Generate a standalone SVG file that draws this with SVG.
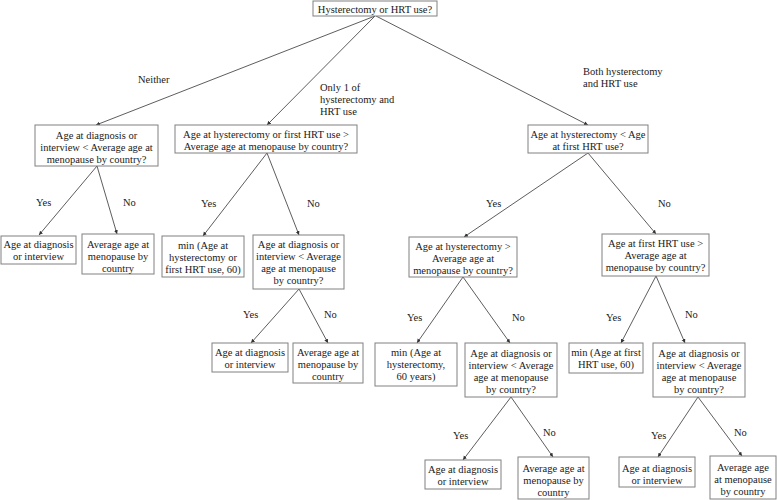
<svg xmlns="http://www.w3.org/2000/svg" width="777" height="500" viewBox="0 0 777 500">
<style>
  .box { fill: #ffffff; stroke: #808080; stroke-width: 1; }
  .t { font-family: "Liberation Serif", "Times New Roman", serif; font-size: 10.5px; fill: #1a1a1a; }
  .c { text-anchor: middle; }
  .edge { stroke: #333333; stroke-width: 0.8; fill: none; marker-end: url(#arr); }
</style>
<defs>
  <marker id="arr" markerUnits="userSpaceOnUse" markerWidth="5" markerHeight="5" refX="4" refY="2" orient="auto">
    <path d="M0,0 L4,2 L0,4 Z" fill="#333333"/>
  </marker>
</defs>
<rect width="777" height="500" fill="#ffffff"/>

<g id="connectors">
  <line class="edge" x1="375" y1="16" x2="96" y2="125"/>
  <line class="edge" x1="375" y1="16" x2="267" y2="125"/>
  <line class="edge" x1="376" y1="16" x2="588" y2="125"/>
  <line class="edge" x1="97" y1="166" x2="39" y2="235"/>
  <line class="edge" x1="97" y1="166" x2="117" y2="234"/>
  <line class="edge" x1="267" y1="153" x2="203" y2="236"/>
  <line class="edge" x1="267" y1="153" x2="299" y2="235"/>
  <line class="edge" x1="299" y1="289" x2="251" y2="343"/>
  <line class="edge" x1="299" y1="289" x2="328" y2="343"/>
  <line class="edge" x1="588" y1="153" x2="464" y2="237"/>
  <line class="edge" x1="588" y1="153" x2="656" y2="234"/>
  <line class="edge" x1="463" y1="277" x2="417" y2="343"/>
  <line class="edge" x1="463" y1="277" x2="510" y2="343"/>
  <line class="edge" x1="656" y1="276" x2="621" y2="343"/>
  <line class="edge" x1="656" y1="276" x2="685" y2="343"/>
  <line class="edge" x1="511" y1="397" x2="463" y2="460"/>
  <line class="edge" x1="511" y1="397" x2="553" y2="457"/>
  <line class="edge" x1="698" y1="397" x2="658" y2="457"/>
  <line class="edge" x1="698" y1="397" x2="742" y2="456"/>
</g>

<g id="edge-labels" class="t">
  <text x="138" y="82.5">Neither</text>
  <text x="320" y="90.5">Only 1 of</text>
  <text x="320" y="102.5">hysterectomy and</text>
  <text x="320" y="114.5">HRT use</text>
  <text x="583" y="74.5">Both hysterectomy</text>
  <text x="583" y="86.5">and HRT use</text>
  <text x="36" y="205.5">Yes</text>
  <text x="123" y="205.5">No</text>
  <text x="201" y="206.5">Yes</text>
  <text x="307" y="206.5">No</text>
  <text x="243" y="317.5">Yes</text>
  <text x="324" y="317.5">No</text>
  <text x="486" y="206.5">Yes</text>
  <text x="658" y="206.5">No</text>
  <text x="407" y="320.5">Yes</text>
  <text x="512" y="320.5">No</text>
  <text x="606" y="320.5">Yes</text>
  <text x="685" y="317.5">No</text>
  <text x="453" y="438.5">Yes</text>
  <text x="543" y="435.5">No</text>
  <text x="651" y="438.5">Yes</text>
  <text x="734" y="435.5">No</text>
</g>

<g id="root">
  <rect class="box" x="313" y="1" width="124" height="15"/>
  <text class="t c" x="375" y="12.5">Hysterectomy or HRT use?</text>
</g>

<g id="nodeA">
  <rect class="box" x="35" y="125" width="123" height="41"/>
  <text class="t c" x="96.5" y="138.5">Age at diagnosis or</text>
  <text class="t c" x="96.5" y="150.5">interview &lt; Average age at</text>
  <text class="t c" x="96.5" y="162.5">menopause by country?</text>
</g>

<g id="nodeB">
  <rect class="box" x="175" y="125" width="182" height="28"/>
  <text class="t c" x="266" y="137.5">Age at hysterectomy or first HRT use &gt;</text>
  <text class="t c" x="266" y="149.5">Average age at menopause by country?</text>
</g>

<g id="nodeC">
  <rect class="box" x="528" y="125" width="120" height="28"/>
  <text class="t c" x="588" y="137.5">Age at hysterectomy &lt; Age</text>
  <text class="t c" x="588" y="149.5">at first HRT use?</text>
</g>

<g id="nodeA1">
  <rect class="box" x="1" y="236" width="75" height="28"/>
  <text class="t c" x="38.5" y="247.5">Age at diagnosis</text>
  <text class="t c" x="38.5" y="260">or interview</text>
</g>

<g id="nodeA2">
  <rect class="box" x="82" y="234" width="72" height="40"/>
  <text class="t c" x="118" y="247.5">Average age at</text>
  <text class="t c" x="118" y="259.5">menopause by</text>
  <text class="t c" x="118" y="271.5">country</text>
</g>

<g id="nodeB1">
  <rect class="box" x="162" y="236" width="82" height="41"/>
  <text class="t c" x="203" y="248.5">min (Age at</text>
  <text class="t c" x="203" y="260.5">hysterectomy or</text>
  <text class="t c" x="203" y="272.5">first HRT use, 60)</text>
</g>

<g id="nodeB2">
  <rect class="box" x="253" y="235" width="91" height="54"/>
  <text class="t c" x="298.5" y="247.5">Age at diagnosis or</text>
  <text class="t c" x="298.5" y="259.8">interview &lt; Average</text>
  <text class="t c" x="298.5" y="272.1">age at menopause</text>
  <text class="t c" x="298.5" y="284.4">by country?</text>
</g>

<g id="nodeC1">
  <rect class="box" x="409" y="237" width="108" height="40"/>
  <text class="t c" x="463" y="249.5">Age at hysterectomy &gt;</text>
  <text class="t c" x="463" y="261.5">Average age at</text>
  <text class="t c" x="463" y="273.5">menopause by country?</text>
</g>

<g id="nodeC2">
  <rect class="box" x="602" y="234" width="107" height="42"/>
  <text class="t c" x="655.5" y="246.5">Age at first HRT use &gt;</text>
  <text class="t c" x="655.5" y="258.5">Average age at</text>
  <text class="t c" x="655.5" y="271">menopause by country?</text>
</g>

<g id="nodeB2a">
  <rect class="box" x="212" y="343" width="76" height="29"/>
  <text class="t c" x="250" y="355.5">Age at diagnosis</text>
  <text class="t c" x="250" y="367.5">or interview</text>
</g>

<g id="nodeB2b">
  <rect class="box" x="293" y="343" width="70" height="40"/>
  <text class="t c" x="328" y="355.5">Average age at</text>
  <text class="t c" x="328" y="367.5">menopause by</text>
  <text class="t c" x="328" y="379.5">country</text>
</g>

<g id="nodeC1a">
  <rect class="box" x="375" y="343" width="82" height="43"/>
  <text class="t c" x="416" y="355.5">min (Age at</text>
  <text class="t c" x="416" y="367.5">hysterectomy,</text>
  <text class="t c" x="416" y="380">60 years)</text>
</g>

<g id="nodeC1b">
  <rect class="box" x="465" y="343" width="92" height="54"/>
  <text class="t c" x="511" y="356.5">Age at diagnosis or</text>
  <text class="t c" x="511" y="368.5">interview &lt; Average</text>
  <text class="t c" x="511" y="380.5">age at menopause</text>
  <text class="t c" x="511" y="392.5">by country?</text>
</g>

<g id="nodeC2a">
  <rect class="box" x="569" y="343" width="74" height="30"/>
  <text class="t c" x="606" y="356">min (Age at first</text>
  <text class="t c" x="606" y="368">HRT use, 60)</text>
</g>

<g id="nodeC2b">
  <rect class="box" x="653" y="343" width="92" height="54"/>
  <text class="t c" x="699" y="356.5">Age at diagnosis or</text>
  <text class="t c" x="699" y="368.5">interview &lt; Average</text>
  <text class="t c" x="699" y="380.5">age at menopause</text>
  <text class="t c" x="699" y="392.5">by country?</text>
</g>

<g id="nodeC1ba">
  <rect class="box" x="425" y="460" width="76" height="29"/>
  <text class="t c" x="463" y="472.5">Age at diagnosis</text>
  <text class="t c" x="463" y="485">or interview</text>
</g>

<g id="nodeC1bb">
  <rect class="box" x="518" y="457" width="71" height="42"/>
  <text class="t c" x="553.5" y="471.5">Average age at</text>
  <text class="t c" x="553.5" y="483.5">menopause by</text>
  <text class="t c" x="553.5" y="495.5">country</text>
</g>

<g id="nodeC2ba">
  <rect class="box" x="619" y="457" width="76" height="30"/>
  <text class="t c" x="657" y="471.5">Age at diagnosis</text>
  <text class="t c" x="657" y="483.5">or interview</text>
</g>

<g id="nodeC2bb">
  <rect class="box" x="710" y="456" width="66" height="43"/>
  <text class="t c" x="743" y="470.5">Average age</text>
  <text class="t c" x="743" y="482.5">at menopause</text>
  <text class="t c" x="743" y="495">by country</text>
</g>
</svg>
